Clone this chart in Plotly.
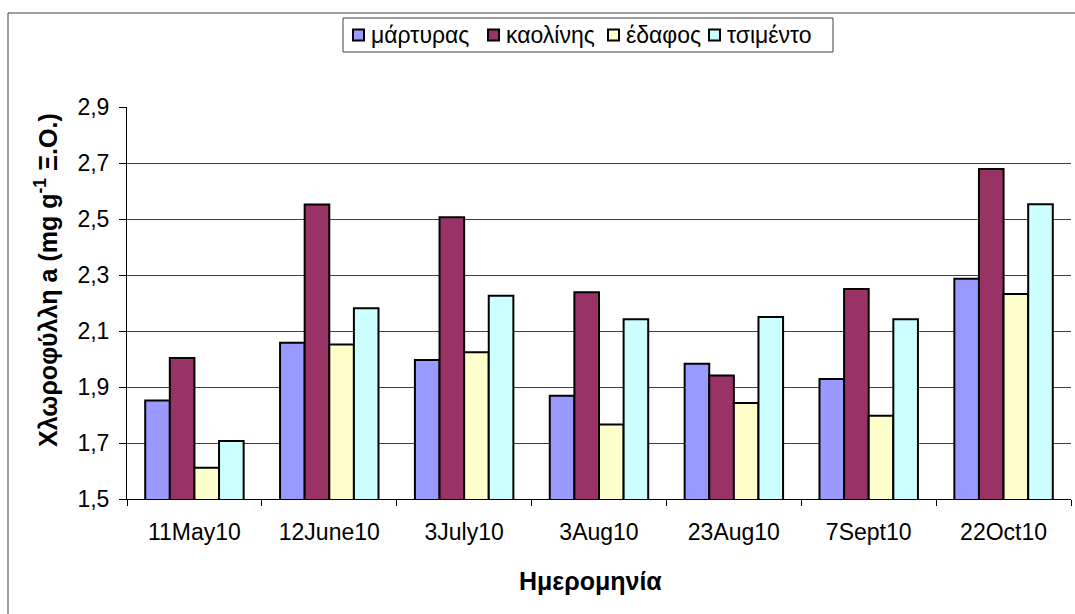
import plotly.graph_objects as go

dates = ["11May10", "12June10", "3July10", "3Aug10", "23Aug10", "7Sept10", "22Oct10"]
martyras = [1.852, 2.058, 1.996, 1.869, 1.983, 1.929, 2.287]
kaolinis = [2.004, 2.552, 2.506, 2.238, 1.941, 2.250, 2.679]
edafos = [1.612, 2.052, 2.024, 1.766, 1.843, 1.797, 2.232]
tsimento = [1.707, 2.181, 2.226, 2.142, 2.150, 2.142, 2.553]
y_ticks = [1.5, 1.7, 1.9, 2.1, 2.3, 2.5, 2.7, 2.9]

series = [
    ("μάρτυρας", martyras, "#9999FF"),
    ("καολίνης", kaolinis, "#993366"),
    ("έδαφος", edafos, "#FFFFCC"),
    ("τσιμέντο", tsimento, "#CCFFFF"),
]

font = "Arial, Liberation Sans, sans-serif"

fig = go.Figure()
for name, vals, color in series:
    fig.add_trace(go.Bar(
        x=dates, y=vals, name=name,
        marker=dict(color=color, line=dict(color="black", width=2)),
    ))

# plot area in pixels: x 127..1071, y 107..499
L, R, T, B = 127, 4, 107, 115
W, H = 1075 - L - R, 614 - T - B


def px(x):
    return (x - L) / W


def py(y):
    return (614 - B - y) / H


shapes = [
    # outer chart border (only left and top visible)
    dict(type="line", xref="paper", yref="paper", x0=px(8), x1=px(8), y0=py(13), y1=py(640),
         line=dict(color="#404040", width=1)),
    dict(type="line", xref="paper", yref="paper", x0=px(8), x1=px(1100), y0=py(13), y1=py(13),
         line=dict(color="#404040", width=1)),
    # legend box
    dict(type="rect", xref="paper", yref="paper", x0=px(343), x1=px(833), y0=py(18), y1=py(52),
         line=dict(color="#404040", width=1), fillcolor="white"),
]
annotations = []

# legend entries (text start x in pixels)
text_x = [372, 507, 627, 728]
for (name, vals, color), tx in zip(series, text_x):
    shapes.append(dict(type="rect", xref="paper", yref="paper",
                       x0=px(tx - 19), x1=px(tx - 8), y0=py(29.5), y1=py(40.5),
                       fillcolor=color, line=dict(color="black", width=2)))
    annotations.append(dict(text=name, xref="paper", yref="paper", x=px(tx - 3), y=py(35),
                            xanchor="left", yanchor="middle", showarrow=False,
                            font=dict(size=23)))

annotations.append(dict(
    text="<b>Ημερομηνία</b>", xref="paper", yref="paper",
    x=px(590), y=py(581), xanchor="center", yanchor="middle",
    showarrow=False, font=dict(size=25),
))
annotations.append(dict(
    text="<b>Χλωροφύλλη a (mg g<sup>-1</sup> Ξ.Ο.)</b>", xref="paper", yref="paper",
    x=px(46), y=py(280), xanchor="center", yanchor="middle", textangle=-90,
    showarrow=False, font=dict(size=25),
))

fig.update_layout(
    width=1075, height=614,
    margin=dict(l=L, r=R, t=T, b=B),
    paper_bgcolor="white", plot_bgcolor="white",
    barmode="group", bargap=0.27, bargroupgap=0,
    separators=",.",
    font=dict(family=font, size=23, color="black"),
    showlegend=False,
    xaxis=dict(
        type="category", showline=True, linecolor="black", linewidth=1,
        ticks="outside", tickson="boundaries", ticklen=6, tickcolor="black",
        showgrid=False, ticklabelstandoff=12,
    ),
    yaxis=dict(
        range=[1.5, 2.9], tickvals=y_ticks, tickformat=".1f",
        showline=True, linecolor="black", linewidth=1,
        ticks="outside", ticklen=7, tickcolor="black",
        showgrid=True, gridcolor="#404040", gridwidth=1,
        zeroline=False, ticklabelstandoff=5,
    ),
    shapes=shapes,
    annotations=annotations,
)

fig.write_html("out.html", config={"displayModeBar": False},
               post_script="document.body.style.margin='0';")
